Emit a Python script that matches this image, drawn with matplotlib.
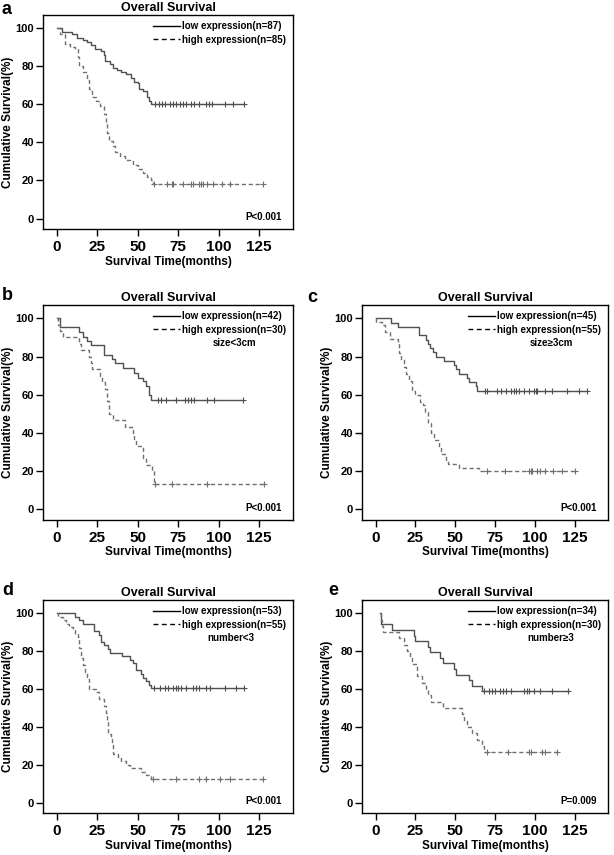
import numpy as np
import matplotlib
matplotlib.use("Agg")
import matplotlib.pyplot as plt

plt.rcParams['font.family'] = ['Liberation Sans', 'DejaVu Sans']
plt.rcParams['font.weight'] = 'bold'

# ---- panel a: all patients
a_low_t = [0, 3, 9.6, 12.7, 16, 18.5, 21, 23.5, 27.6, 29, 30, 33, 35, 37, 40, 43, 46, 48, 50, 51, 53, 55.5, 57, 58.5]
a_low_s = [100, 98, 97, 95, 94, 93, 91, 89, 88, 86, 83, 81, 79, 78, 77, 76, 74, 72, 71, 68, 67, 64, 62, 60]
a_low_c = [61, 63, 65, 67, 70, 72, 74, 76, 78, 80, 83, 85, 88, 92, 94, 96, 104, 109, 116]
a_high_t = [0, 2, 5, 8, 11, 13, 14, 16, 18.5, 20, 22, 24.5, 26.5, 29, 30.5, 31, 32, 34.5, 36, 39, 42, 45, 47, 50, 53, 56, 58.5, 59.5]
a_high_s = [100, 97, 92, 90, 89, 85, 80, 77, 73, 68, 64, 62, 59, 55, 51, 45, 41, 38, 35, 33, 31, 30, 28, 26, 24, 22, 20, 18]
a_high_c = [60, 68, 71, 72, 78, 83, 84, 88, 89, 90.5, 92.6, 96.7, 102, 107, 127.6]

# ---- panel b: size<3cm
b_low_t = [0, 2, 13.6, 16, 18.5, 21, 29.5, 34, 35.7, 41, 48, 50, 53, 55, 57, 58]
b_low_s = [100, 95.5, 93, 90.5, 88, 86, 81, 78.5, 76.5, 74, 71.5, 69, 67, 64.5, 60, 57.5]
b_low_c = [62.5, 64.5, 67.6, 73.8, 79, 81, 83, 85, 93, 97, 115]
b_high_t = [0, 1, 2, 4, 14, 15, 20, 21, 22, 27, 28, 30, 31, 32, 35, 42, 47, 48, 49, 53, 55, 59, 60]
b_high_s = [100, 96.7, 93.3, 90, 86.7, 83.3, 80, 76.7, 73.3, 70, 66.7, 63.3, 56.7, 50, 46.7, 43.3, 40, 36.7, 33.3, 26.7, 23.3, 20, 13.3]
b_high_c = [61, 71, 93, 128]

# ---- panel c: size>=3cm
c_low_t = [0, 9.8, 14, 27, 32, 33, 34, 36, 38, 43, 49.5, 50.5, 52.6, 57.7, 58.7, 62.8, 64]
c_low_s = [100, 97.8, 95.6, 91.1, 88.9, 86.7, 84.4, 82.2, 80, 77.8, 75.6, 73.3, 71.1, 68.9, 66.7, 64.4, 62.2]
c_low_c = [69, 70, 76, 79, 82, 85, 87, 88, 90, 93, 96.5, 99.5, 100.5, 101.6, 106.6, 110.7, 120, 128, 133]
c_high_t = [0, 0.6, 4, 5.7, 8.8, 14, 15, 16, 18, 19, 21, 23, 25, 28, 30, 31, 33, 35, 37, 40, 41, 44, 45.5, 52.6, 65]
c_high_s = [100, 98.2, 96.4, 92.7, 89.1, 87.3, 81.8, 78.2, 74.5, 70.9, 67.3, 61.8, 60, 56.4, 54.5, 50.9, 45.5, 40, 36.4, 32.7, 29.1, 25.5, 23.6, 21.8, 20]
c_high_c = [70, 81, 96.5, 97.5, 98.5, 101.5, 103.6, 106.6, 111.7, 116.8, 125]

# ---- panel d: number<3
d_low_t = [0, 11.5, 14, 16, 23.3, 26.4, 27.4, 29.5, 31.5, 33, 40.4, 45, 47, 49, 52, 53.6, 55.3, 56.7, 58.4]
d_low_s = [100, 98.1, 96.2, 94.3, 90.6, 88.7, 84.9, 83, 81.1, 79.2, 77.4, 75.5, 73.6, 69.8, 67.9, 66, 64.2, 62.3, 60.4]
d_low_c = [60.4, 63.5, 66.6, 68.7, 71.8, 73.8, 74.8, 76.9, 80, 84.1, 86.2, 88.2, 92.4, 94.4, 103.7, 111, 116]
d_high_t = [0, 0.6, 3.7, 5.8, 7.8, 10, 11, 13, 13.6, 15, 16, 17.5, 18.5, 20.2, 24.3, 26.4, 29.5, 30.5, 31, 31.5, 33.6, 34.2, 34.6, 37.7, 39.8, 42.9, 45, 52, 55.3, 58.4]
d_high_s = [100, 98.2, 96.4, 94.5, 92.7, 90.9, 89.1, 87.3, 81.8, 76.4, 72.7, 69.1, 65.5, 60, 58.2, 54.5, 50.9, 47.3, 43.6, 36.4, 34.5, 30.9, 25.5, 23.6, 21.8, 20, 18.2, 16.4, 14.5, 12.7]
d_high_c = [59.4, 73.8, 88.2, 92.4, 100.6, 106.8, 127.4]

# ---- panel e: number>=3
e_low_t = [3, 3.5, 3.7, 10.2, 24, 25, 33.2, 34.3, 40.4, 42.4, 49.5, 50.6, 58.7, 60.8, 66.9]
e_low_s = [100, 97.1, 94.1, 91.2, 88.2, 85.3, 82.4, 79.4, 76.5, 73.5, 70.6, 67.6, 64.7, 61.8, 58.8]
e_low_c = [68, 71, 73, 75, 78, 80, 82, 85, 93, 95.4, 96.5, 99.5, 103.6, 110.7, 121]
e_high_t = [3, 3.5, 4, 4.7, 14.9, 18, 20, 21.6, 23, 26, 29, 32, 33, 35, 42.4, 54.6, 55.7, 57.7, 60.8, 63.8, 67, 68]
e_high_s = [100, 96.7, 93.3, 90, 86.7, 83.3, 80, 76.7, 73.3, 66.7, 63.3, 60, 56.7, 53.3, 50, 46.7, 43.3, 40, 36.7, 33.3, 30, 26.7]
e_high_c = [70, 83, 96.5, 97.5, 104.6, 106.6, 114]

panels = [
    ('a', 'low expression(n=87)', 'high expression(n=85)', '', 'P<0.001',
     a_low_t, a_low_s, a_low_c, a_high_t, a_high_s, a_high_c),
    ('b', 'low expression(n=42)', 'high expression(n=30)', 'size<3cm', 'P<0.001',
     b_low_t, b_low_s, b_low_c, b_high_t, b_high_s, b_high_c),
    ('c', 'low expression(n=45)', 'high expression(n=55)', 'size\u22653cm', 'P<0.001',
     c_low_t, c_low_s, c_low_c, c_high_t, c_high_s, c_high_c),
    ('d', 'low expression(n=53)', 'high expression(n=55)', 'number<3', 'P<0.001',
     d_low_t, d_low_s, d_low_c, d_high_t, d_high_s, d_high_c),
    ('e', 'low expression(n=34)', 'high expression(n=30)', 'number\u22653', 'P=0.009',
     e_low_t, e_low_s, e_low_c, e_high_t, e_high_s, e_high_c),
]

W, H = 614, 855
# axes boxes in pixels: left, top, right, bottom
boxes = [(43, 15, 293, 229), (43, 305, 293, 520), (362, 305, 608, 520),
         (43, 600, 293, 813), (362, 600, 608, 813)]
# panel letters: x, baseline y (pixels)
letter_pos = [(2, 14), (2, 300), (307, 302), (2, 595), (328, 595)]
sub_x = [0, 0.768, 0.768, 0.752, 0.768]

fig = plt.figure(figsize=(W / 100, H / 100), dpi=100)


def km_line(ax, t, s, c, ls, color, label):
    t_end = max(max(c), t[-1])
    tt = list(t) + [t_end]
    ss = list(s) + [s[-1]]
    ax.step(tt, ss, where='post', ls=ls, color=color, lw=1.0, label=label)
    idx = np.searchsorted(t, c, side='right') - 1
    ax.plot(c, np.array(s)[idx], ls='none', marker='+', ms=5, mew=0.8, color=color)


for i, ((lt, lab1, lab2, sub, pval, lt_, ls_, lc_, ht_, hs_, hc_), box, lp) in enumerate(zip(panels, boxes, letter_pos)):
    l, t, r, b = box
    ax = fig.add_axes([l / W, 1 - b / H, (r - l) / W, (b - t) / H])
    km_line(ax, lt_, ls_, lc_, '-', '#505050', lab1)
    km_line(ax, ht_, hs_, hc_, (0, (3, 2)), '#707070', lab2)
    ax.set_xlim(-8.5, 146)
    ax.set_ylim(-5.5, 107)
    ax.set_xticks([0, 25, 50, 75, 100, 125])
    ax.set_yticks([0, 20, 40, 60, 80, 100])
    ax.tick_params(axis='x', labelsize=11, length=5, width=1, direction='out', pad=3)
    ax.tick_params(axis='y', labelsize=8, length=5, width=1, direction='out', pad=1.5)
    for lbl in ax.get_xticklabels() + ax.get_yticklabels():
        lbl.set_fontweight('bold')
    for sp in ax.spines.values():
        sp.set_linewidth(1.0)
    ax.set_title('Overall Survival', fontsize=9, fontweight='bold', pad=3)
    ax.set_xlabel('Survival Time(months)', fontsize=8.5, fontweight='bold', labelpad=1)
    ax.set_ylabel('Cumulative Survival(%)', fontsize=8.5, fontweight='bold', labelpad=1)
    hgt = b - t
    leg = ax.legend(loc='upper right', bbox_to_anchor=(1 - 7 / (r - l), 1 - 6 / hgt),
                    frameon=False, handlelength=2.8, handletextpad=0.2,
                    borderaxespad=0, borderpad=0, labelspacing=0.4,
                    prop={'weight': 'bold', 'size': 7})
    for h in leg.get_lines():
        h.set_color('black')
        h.set_linewidth(1.0)
    leg.get_lines()[1].set_linestyle((0, (3.5, 2.5)))
    if sub:
        ax.text(sub_x[i], 1 - 38 / hgt, sub, transform=ax.transAxes, ha='center', va='center',
                fontsize=7, fontweight='bold')
    ax.text(0.956, 12 / hgt, pval, transform=ax.transAxes, ha='right', va='center',
            fontsize=7, fontweight='bold')
    fig.text(lp[0] / W, 1 - lp[1] / H, lt, fontsize=13, fontweight='bold',
             ha='left', va='baseline')

fig.savefig('out.png', dpi=100)
